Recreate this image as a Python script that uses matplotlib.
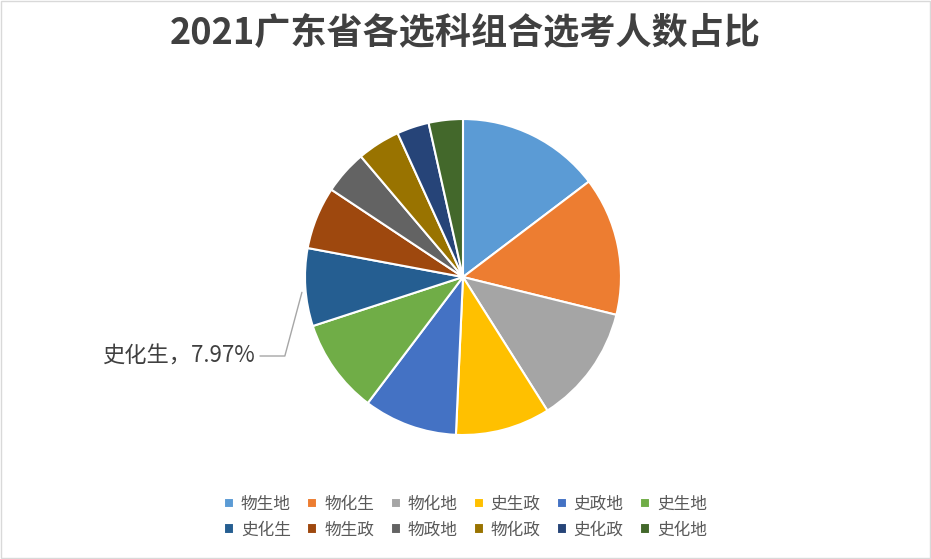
import matplotlib.pyplot as plt
from matplotlib.patches import Rectangle

plt.rcParams["font.family"] = "Noto Sans CJK SC"

labels = ["物生地", "物化生", "物化地", "史生政", "史政地", "史生地",
          "史化生", "物生政", "物政地", "物化政", "史化政", "史化地"]
shares = [14.7, 14.2, 12.2, 9.7, 9.6, 9.7, 7.97, 6.4, 4.5, 4.4, 3.3, 3.5]
colors = ["#5b9bd5", "#ed7d31", "#a5a5a5", "#ffc000", "#4472c4", "#70ad47",
          "#255e91", "#9e480e", "#636363", "#997300", "#264478", "#43682b"]

fig = plt.figure(figsize=(9.31, 5.59), dpi=100)
fig.patches.append(Rectangle((0.001, 0.001), 0.998, 0.998, transform=fig.transFigure,
                             fill=False, edgecolor="#d9d9d9", linewidth=1))
ax = fig.add_axes([0.3276, 0.2218, 0.3394, 0.5653])
wedges, _ = ax.pie(shares, colors=colors, startangle=90, counterclock=False,
                   wedgeprops=dict(edgecolor="white", linewidth=1.5))
ax.set_xlim(-1, 1)
ax.set_ylim(-1, 1)
ax.set_aspect("equal")

ax.annotate("史化生，7.97%", xy=(-1.015, -0.08), xytext=(-1.32, -0.5),
            fontsize=16, color="#404040", ha="right", va="center",
            arrowprops=dict(arrowstyle="-", color="#a6a6a6", linewidth=1,
                            connectionstyle="angle,angleA=0,angleB=75,rad=0"),
            annotation_clip=False)

fig.suptitle("2021广东省各选科组合选考人数占比", fontsize=26, fontweight="bold",
             color="#404040", y=0.975)

# row-major legend order for 2 rows x 6 columns
order = [i + r * 6 for i in range(6) for r in range(2)]
fig.legend([wedges[i] for i in order], [labels[i] for i in order],
           loc="lower center", ncol=6, bbox_to_anchor=(0.5, 0.01),
           frameon=False, fontsize=12, handlelength=0.6, handleheight=0.6,
           columnspacing=1.0, handletextpad=0.4, labelcolor="#595959")
fig.savefig("out.png")
